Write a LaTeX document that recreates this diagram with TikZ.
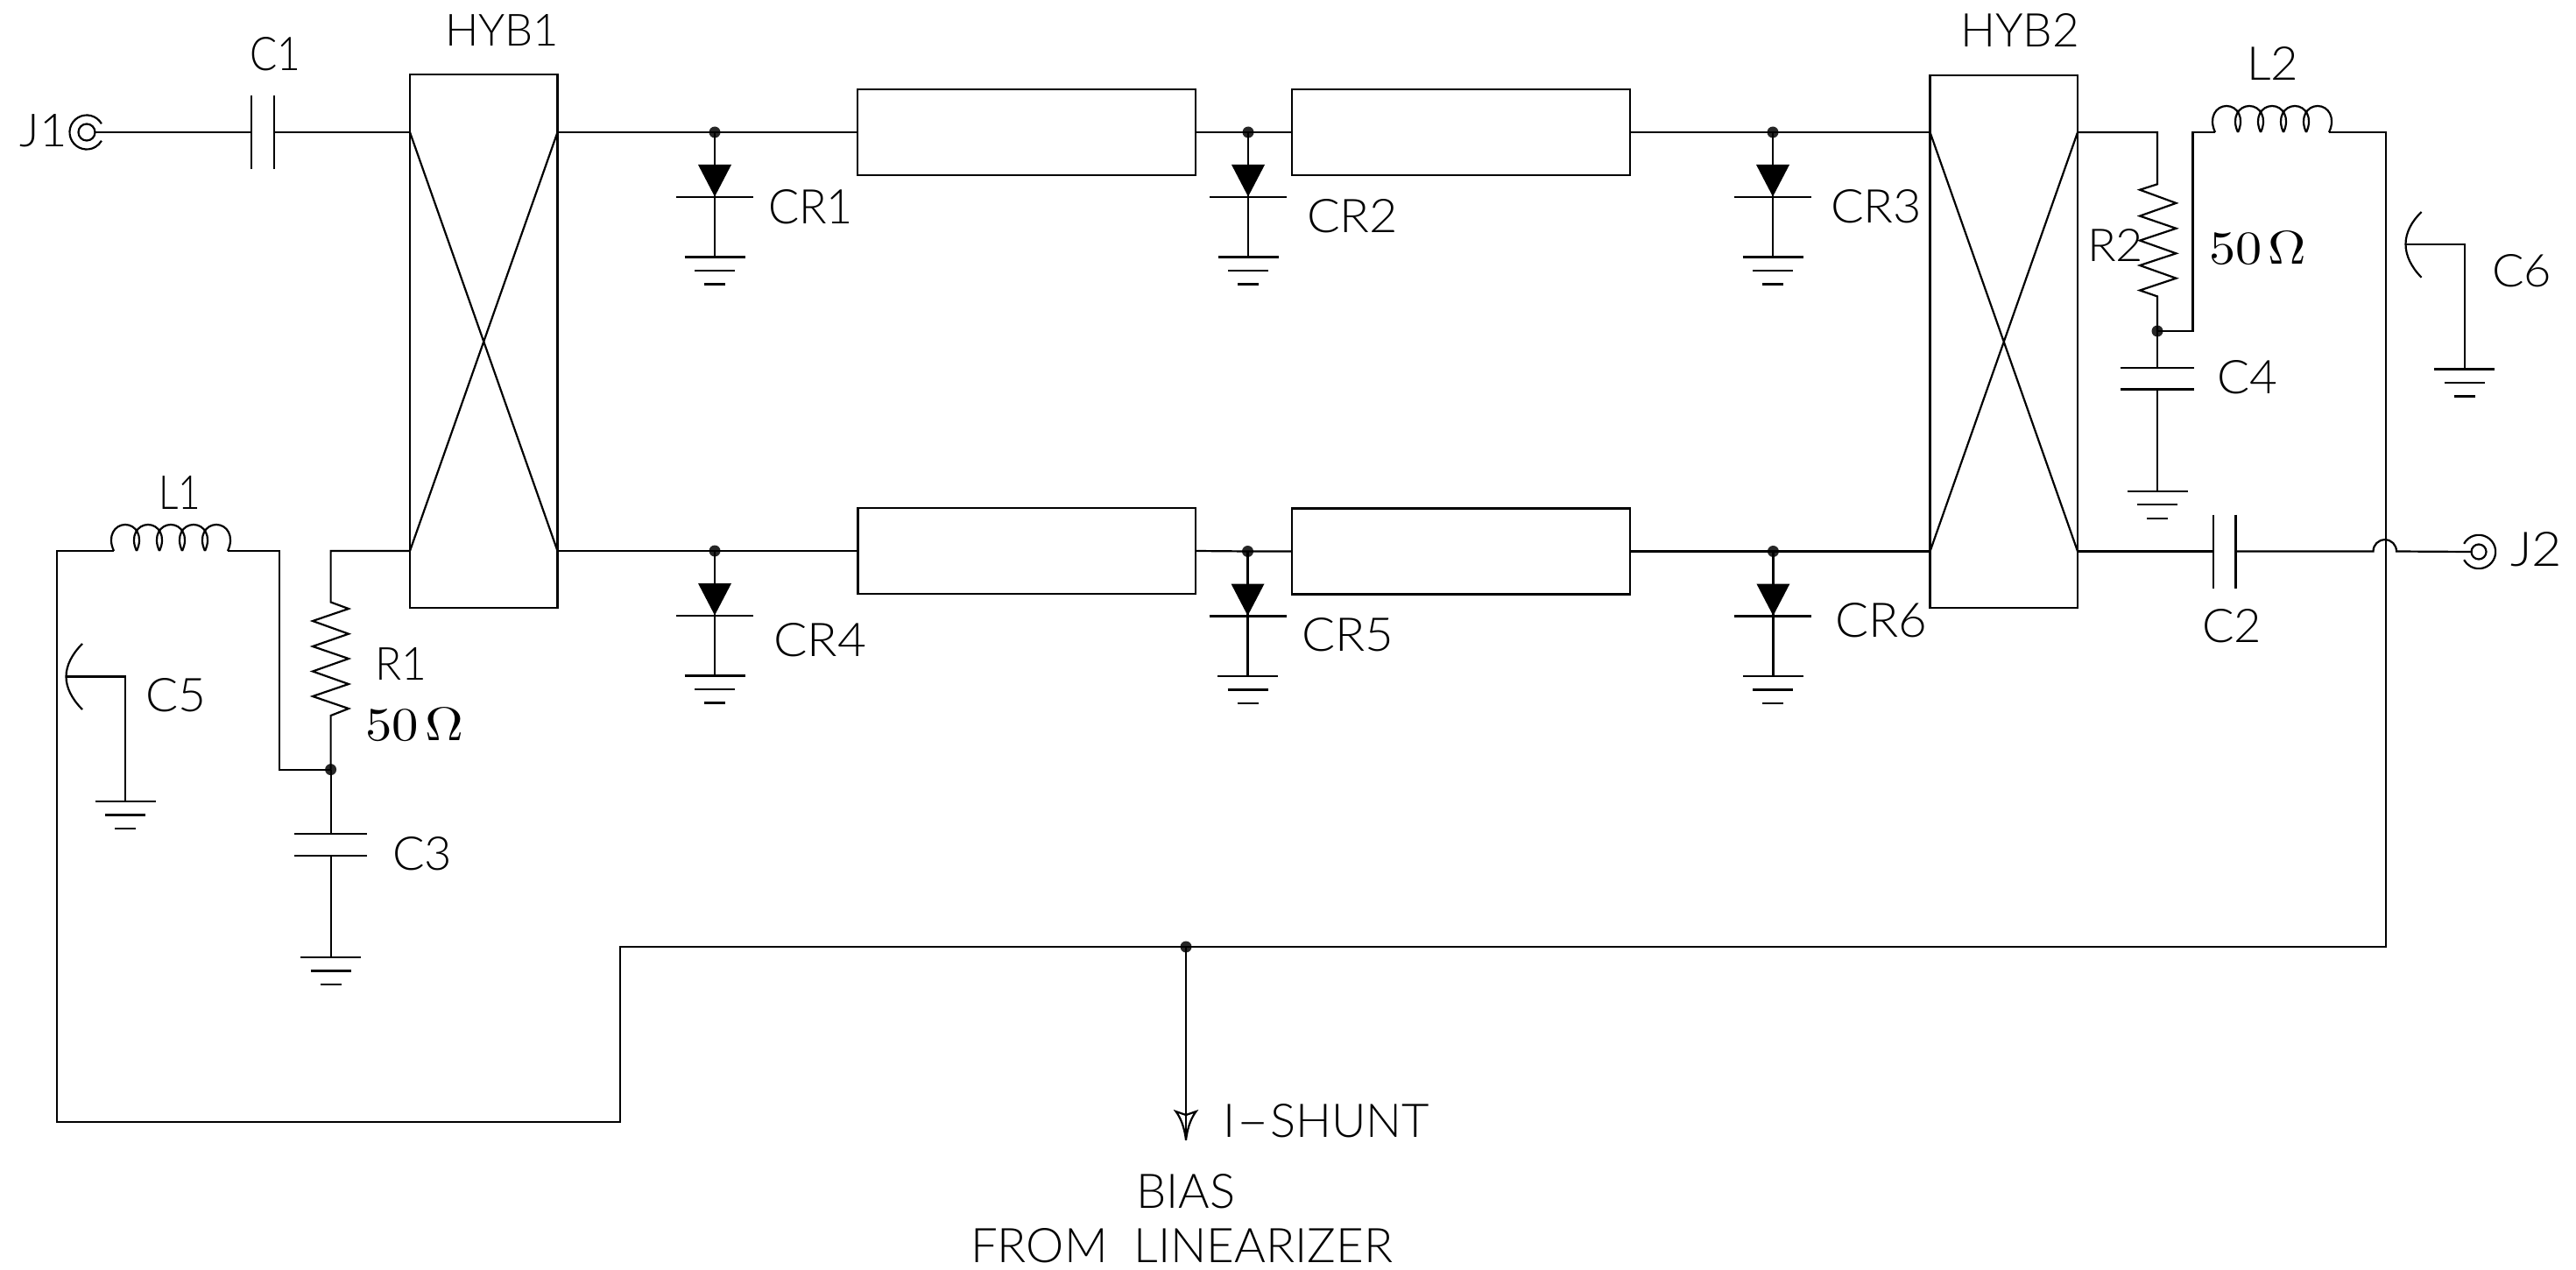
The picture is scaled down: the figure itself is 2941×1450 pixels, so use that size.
\documentclass[tikz,border=0pt]{standalone}
\usepackage{fontspec}
\usepackage{graphicx}
\newfontfamily\cadfont{Lato Light}
\newcommand{\lab}[6]{\node[lbl,anchor=south west] (#1) at (#2-2,#5) {\resizebox{\dimexpr#3pt-#2pt+4pt\relax}{\dimexpr#5pt-#4pt\relax}{\cadfont #6}};}
\newcommand{\ohmlab}[5]{\node[lbl,anchor=south west] (#1) at (#2-2,#5) {\resizebox{\dimexpr#3pt-#2pt+4pt\relax}{\dimexpr#5pt-#4pt\relax}{\rmfamily 50\kern.12em Ω}};}
% ground symbol: top centre named #1
\newcommand{\gnd}[3]{\coordinate (#1) at (#2,#3);
  \draw[wire] ([xshift=-34.5pt]#1) -- ([xshift=34.5pt]#1);
  \draw[wire] ([xshift=-23pt,yshift=-15.5pt]#1) -- ([xshift=23pt,yshift=-15.5pt]#1);
  \draw[wire] ([xshift=-12pt,yshift=-31pt]#1) -- ([xshift=12pt,yshift=-31pt]#1);}
% diode branch: junction #1 on the rail at (#2,#3)
\newcommand{\diodebranch}[3]{
  \node[dot] (#1) at (#2,#3) {};
  \coordinate (#1top) at (#2,#3+37);
  \coordinate (#1tip) at (#2,#3+73.5);
  \coordinate (#1bar) at (#2,#3+74);
  \fill ([xshift=-19pt]#1top) -- ([xshift=19pt]#1top) -- (#1tip) -- cycle;
  \draw[wire] ([xshift=-44pt]#1bar) -- ([xshift=44pt]#1bar);
  \gnd{#1g}{#2}{#3+142.5}
  \draw[wire] (#1.center) -- (#1g);}
% inductor: five turns, left end named #1a and right end #1b
\newcommand{\coil}[3]{\coordinate (#1a) at (#2,#3); \coordinate (#1b) at (#2+130,#3);
  \foreach \i in {0,1,2,3,4}{
    \draw[wire] (#2+26*\i,#3) .. controls (#2+26*\i-8,#3-17) and (#2+26*\i+1,#3-30) .. (#2+26*\i+13,#3-30)
      .. controls (#2+26*\i+25,#3-30) and (#2+26*\i+34,#3-17) .. (#2+26*\i+26,#3);}}
\tikzset{
  wire/.style={line width=2.2pt,line join=miter,black},
  boxnode/.style={draw,line width=2.2pt,inner sep=0pt,fill=none},
  dot/.style={circle,fill=black!85,inner sep=0pt,minimum size=13pt},
  lbl/.style={inner sep=0pt,outer sep=0pt,black}
}
\begin{document}
\begin{tikzpicture}[x=1pt,y=-1pt]
\useasboundingbox (0,0) rectangle (2941,1450);
% hybrids
\node[boxnode,minimum width=168.5pt,minimum height=608.5pt] (hyb1) at (552.25,389.5) {};
\node[boxnode,minimum width=168.5pt,minimum height=608.5pt] (hyb2) at (2287.75,390) {};
\coordinate (h1a) at (468,151); \coordinate (h1b) at (636.5,151);
\coordinate (h1c) at (468,629); \coordinate (h1d) at (636.5,629);
\coordinate (h2a) at (2203.5,151); \coordinate (h2b) at (2372,151);
\coordinate (h2c) at (2203.5,629.5); \coordinate (h2d) at (2372,629.5);
\draw[wire] (h1a) -- (h1d) (h1b) -- (h1c);
\draw[wire] (h2a) -- (h2d) (h2b) -- (h2c);
% lines
\node[boxnode,minimum width=386pt,minimum height=98pt] (tl1) at (1172,151) {};
\node[boxnode,minimum width=386pt,minimum height=98pt] (tl2) at (1668,151) {};
\node[boxnode,minimum width=385.5pt,minimum height=98pt] (tl3) at (1172.25,629) {};
\node[boxnode,minimum width=386pt,minimum height=98pt] (tl4) at (1668,629.5) {};
% diode branches
\diodebranch{cr1}{816}{151}
\diodebranch{cr2}{1425}{151}
\diodebranch{cr3}{2024}{151}
\diodebranch{cr4}{816}{629}
\diodebranch{cr5}{1424.5}{629.5}
\diodebranch{cr6}{2024.4}{629.5}
\draw[wire] (h1b) -- (cr1.center) -- (tl1.west);
\draw[wire] (tl1.east) -- (cr2.center) -- (tl2.west);
\draw[wire] (tl2.east) -- (cr3.center) -- (h2a);
\draw[wire] (h1d) -- (cr4.center) -- (tl3.west);
\draw[wire] (tl3.east) -- (cr5.center) -- (tl4.west);
\draw[wire] (tl4.east) -- (cr6.center) -- (h2c);
% J1 and C1
\coordinate (j1c) at (99,151);
\coordinate (j1e) at (108.5,151);
\draw[wire] (j1c) circle[radius=9.5pt];
\draw[wire] ([xshift=16.9pt,yshift=9.75pt]j1c) arc[start angle=30,end angle=330,radius=19.5pt];
\coordinate (c1l) at (287,151); \coordinate (c1r) at (313,151);
\draw[wire] (j1e) -- (c1l);
\draw[wire] (c1r) -- (h1a);
\draw[wire] (287,109) -- (287,193) (313,109) -- (313,193);
% R1, L1, C3, C5
\coordinate (r1c) at (377.6,629);
\coordinate (r1t) at (377.6,687.5);
\coordinate (r1b) at (377.6,817);
\node[dot] (n1) at (377.6,878.6) {};
\draw[wire] (h1c) -- (r1c) -- (r1t) -- (398,695) -- (357,709) -- (398,723.7) -- (357,738) -- (398,752) -- (357,766.5) -- (398,781) -- (357,795) -- (398,809) -- (r1b) -- (n1.center);
\coil{l1}{130}{629}
\coordinate (l1r) at (319,629);
\coordinate (l1d) at (319,878.6);
\draw[wire] (l1b) -- (l1r) -- (l1d) -- (n1.center);
\coordinate (c3t) at (377.6,952); \coordinate (c3b) at (377.6,977);
\draw[wire] (336,952) -- (419,952) (336,977) -- (419,977);
\draw[wire] (n1.center) -- (c3t);
\gnd{g3}{377.6}{1093}
\draw[wire] (c3b) -- (g3);
\coordinate (c5p) at (75.5,772.5); \coordinate (c5k) at (143,772.5);
\draw[wire] (94,735) .. controls (82,747) and (75.5,760) .. (c5p) .. controls (75.5,785) and (82,798) .. (94,810);
\gnd{g5}{143}{915}
\draw[wire] (c5p) -- (c5k) -- (g5);
% bias loop
\coordinate (b1) at (65,629);
\coordinate (b2) at (65,1281);
\coordinate (b3) at (707.6,1281);
\coordinate (b4) at (707.6,1081);
\node[dot] (n3) at (1354,1081) {};
\coordinate (b5) at (2723.7,1081);
\coordinate (b6) at (2723.7,151);
\coil{l2}{2529}{151}
\draw[wire] (l1a) -- (b1) -- (b2) -- (b3) -- (b4) -- (n3.center) -- (b5) -- (b6) -- (l2b);
% arrow
\coordinate (ishunt) at (1354,1301.7);
\draw[wire] (n3.center) -- (ishunt);
\draw[wire] (ishunt) .. controls (1352,1285) and (1347,1275) .. (1342.5,1269) -- (1354,1273) -- (1365.5,1269) .. controls (1361,1275) and (1356,1285) .. (ishunt);
% R2, C4
\coordinate (r2c) at (2463,151);
\coordinate (r2t) at (2463,210.3);
\coordinate (r2b) at (2463,338.4);
\node[dot] (n2) at (2463,378) {};
\draw[wire] (h2b) -- (r2c) -- (r2t) -- (2443,216.7) -- (2484.4,231.9) -- (2443,246.6) -- (2484.4,260.8) -- (2443,274.6) -- (2484.4,289.3) -- (2443,303) -- (2484.4,317.7) -- (2443,331.5) -- (r2b) -- (n2.center);
\coordinate (l2d) at (2503.5,378); \coordinate (l2u) at (2503.5,151);
\draw[wire] (n2.center) -- (l2d) -- (l2u) -- (l2a);
\coordinate (c4t) at (2463,419.7); \coordinate (c4b) at (2463,444.4);
\draw[wire] (2421,419.7) -- (2505,419.7) (2421,444.4) -- (2505,444.4);
\draw[wire] (n2.center) -- (c4t);
\gnd{g4}{2463}{560.6}
\draw[wire] (c4b) -- (g4);
% C6
\coordinate (c6p) at (2746.5,278.7); \coordinate (c6k) at (2813.6,278.7);
\draw[wire] (2764.6,242) .. controls (2753,253) and (2746.5,266) .. (c6p) .. controls (2746.5,292) and (2753,305) .. (2764.6,316.8);
\gnd{g6}{2813.6}{421.5}
\draw[wire] (c6p) -- (c6k) -- (g6);
% C2, hop, J2
\coordinate (c2l) at (2527,629.5); \coordinate (c2r) at (2552.5,629.5);
\draw[wire] (2527,587.7) -- (2527,671.7) (2552.5,587.7) -- (2552.5,671.7);
\draw[wire] (h2d) -- (c2l);
\coordinate (hopa) at (2709.5,629.5); \coordinate (hopb) at (2736,629.5);
\coordinate (j2c) at (2830,630); \coordinate (j2e) at (2821.5,630);
\draw[wire] (c2r) -- (hopa) .. controls (2709.5,622) and (2715.3,616.2) .. (2722.8,616.2) .. controls (2730.2,616.2) and (2736,622) .. (hopb) -- (j2e);
\draw[wire] (j2c) circle[radius=8.5pt];
\draw[wire] ([xshift=-16.9pt,yshift=9.2pt]j2c) arc[start angle=151.4,end angle=-151.4,radius=19.2pt];
% labels
\lab{tj1}{25}{75}{131}{168}{J1}
\lab{tc1}{287}{341}{43}{81}{C1}
\lab{thyb1}{510}{636}{17}{53}{HYB1}
\lab{tcr1}{879}{972}{217}{256}{CR1}
\lab{tcr2}{1494}{1594}{228}{266}{CR2}
\lab{tcr3}{2092}{2192}{217}{255}{CR3}
\lab{tcr4}{885}{987}{712}{750}{CR4}
\lab{tcr5}{1488}{1589}{706}{744}{CR5}
\lab{tcr6}{2097}{2198}{689}{728}{CR6}
\lab{thyb2}{2240}{2372}{16}{54}{HYB2}
\lab{tl2}{2567}{2622}{54}{92}{L2}
\lab{tl1}{183}{227}{543}{581}{L1}
\lab{tr1}{430}{485}{739}{776}{R1}
\lab{tr2}{2385}{2445}{261}{298}{R2}
\ohmlab{to1}{419}{527}{809}{847}
\ohmlab{to2}{2524}{2631}{265}{303}
\lab{tc3}{450}{514}{956}{994}{C3}
\lab{tc4}{2533}{2598}{412}{450}{C4}
\lab{tc5}{168}{233}{775}{813}{C5}
\lab{tc6}{2847}{2911}{291}{328}{C6}
\lab{tc2}{2516}{2580}{696}{734}{C2}
\lab{tj2}{2868}{2923}{608}{647}{J2}
\lab{tish}{1398}{1630}{1261}{1299}{I\scalebox{2}[1]{-}SHUNT}
\lab{tbias}{1299}{1408}{1341}{1380}{BIAS}
\lab{tfrom}{1110}{1588}{1403}{1442}{FROM\ \ LINEARIZER}
\end{tikzpicture}
\end{document}
